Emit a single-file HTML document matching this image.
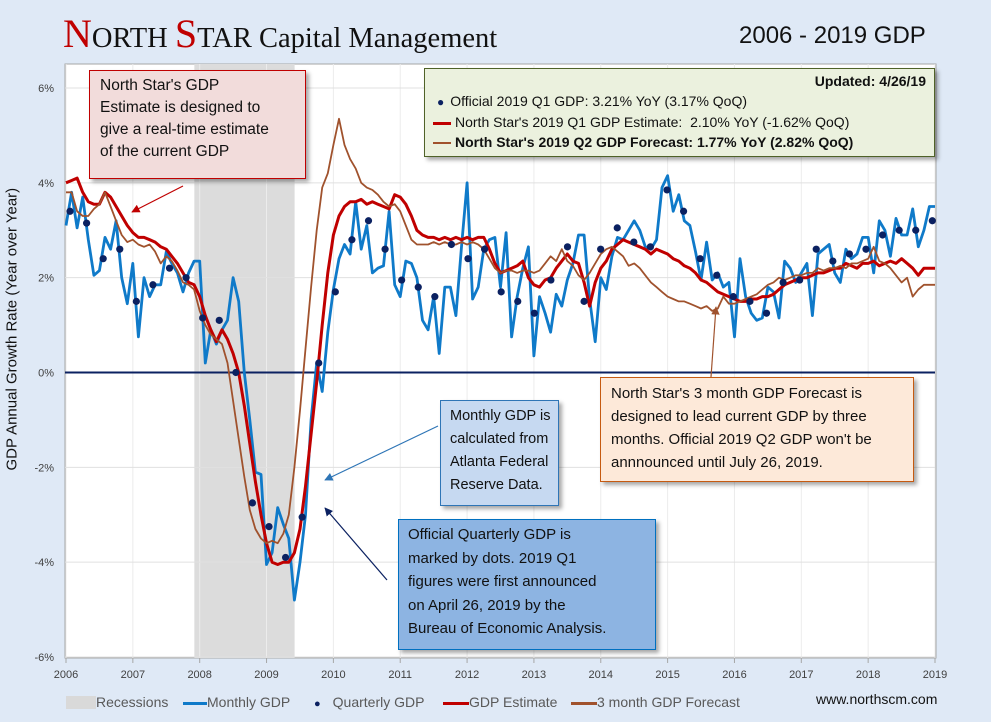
<!DOCTYPE html>
<html><head><meta charset="utf-8"><style>
body{margin:0;width:991px;height:722px;background:#dfe9f6;overflow:hidden;position:relative;font-family:"Liberation Sans",sans-serif}
.box{position:absolute;box-sizing:border-box;color:#111;box-shadow:3px 3px 4px rgba(0,0,0,0.35);white-space:nowrap}
.lg{position:absolute;top:694px;font-size:14px;color:#595959;white-space:nowrap}
</style></head><body>
<div style="position:absolute;left:63px;top:10px;font-family:'Liberation Serif',serif;font-size:28.5px;color:#111;white-space:nowrap"><span style="color:#c00000;font-size:40px">N</span>ORTH <span style="color:#c00000;font-size:40px">S</span>TAR Capital Management</div>
<div style="position:absolute;left:739px;top:22px;font-size:24px;color:#111">2006 - 2019 GDP</div>
<svg id="chart" width="991" height="722" style="position:absolute;left:0;top:0">
<g id="grid"></g><g id="series"></g><g id="axes"></g>
</svg>
<div class="box" style="left:89px;top:70px;width:217px;height:109px;background:#f2dcdb;border:1.5px solid #c00000;padding:4px 10px;font-size:15.5px;line-height:22px">North Star's GDP<br>Estimate is designed to<br>give a real-time estimate<br>of the current GDP</div>
<div class="box" style="left:424px;top:68px;width:511px;height:89px;background:#ebf1de;border:1.5px solid #4f6228;padding:2px 8px;font-size:14px;line-height:20px">
<div style="text-align:right;font-weight:bold">Updated: 4/26/19</div>
<div><span style="color:#0b2161;font-size:12px;margin:0 6px 0 4px">●</span>Official 2019 Q1 GDP: 3.21% YoY (3.17% QoQ)</div>
<div><span style="display:inline-block;width:18px;height:3px;background:#c00000;vertical-align:middle;margin-right:4px"></span>North Star's 2019 Q1 GDP Estimate:&nbsp; 2.10% YoY (-1.62% QoQ)</div>
<div style="font-weight:bold"><span style="display:inline-block;width:18px;height:2px;background:#a0522d;vertical-align:middle;margin-right:4px"></span>North Star's 2019 Q2 GDP Forecast: 1.77% YoY (2.82% QoQ)</div>
</div>
<div class="box" style="left:440px;top:400px;width:119px;height:106px;background:#c6d9f1;border:1.5px solid #2e75b6;padding:4px 9px;font-size:14.5px;line-height:23px">Monthly GDP is<br>calculated from<br>Atlanta Federal<br>Reserve Data.</div>
<div class="box" style="left:398px;top:519px;width:258px;height:131px;background:#8db4e2;border:1.5px solid #0070c0;padding:3px 9px;font-size:15px;line-height:23.5px">Official Quarterly GDP is<br>marked by dots. 2019 Q1<br>figures were first announced<br>on April 26, 2019 by the<br>Bureau of Economic Analysis.</div>
<div class="box" style="left:600px;top:377px;width:314px;height:105px;background:#fde9d9;border:1.5px solid #c55a11;padding:4px 10px;font-size:15px;line-height:23px">North Star's 3 month GDP Forecast is<br>designed to lead current GDP by three<br>months. Official 2019 Q2 GDP won't be<br>annnounced until July 26, 2019.</div>
<div>
<div class="lg" style="left:66px"><span style="display:inline-block;width:30px;height:13px;background:#d9d9d9;vertical-align:-2px"></span>Recessions</div>
<div class="lg" style="left:183px"><span style="display:inline-block;width:24px;height:3px;background:#0f7ac9;vertical-align:middle"></span>Monthly GDP</div>
<div class="lg" style="left:314px"><span style="color:#0b2161;font-size:11px;margin-right:12px">●</span>Quarterly GDP</div>
<div class="lg" style="left:443px"><span style="display:inline-block;width:26px;height:3px;background:#c00000;vertical-align:middle"></span>GDP Estimate</div>
<div class="lg" style="left:571px"><span style="display:inline-block;width:26px;height:3px;background:#a0522d;vertical-align:middle"></span>3 month GDP Forecast</div>
</div>
<div style="position:absolute;left:816px;top:691px;font-size:14px;color:#111">www.northscm.com</div>
<div style="position:absolute;left:-98px;top:352px;width:220px;text-align:center;transform:rotate(-90deg);font-size:15px;color:#111;white-space:nowrap">GDP Annual Growth Rate (Year over Year)</div>
<script>
const yearTicks=[2006,2007,2008,2009,2010,2011,2012,2013,2014,2015,2016,2017,2018,2019];
const yTicks=[6,4,2,0,-2,-4,-6];
const recession=[2007.92,2009.42];
const monthlyGDP=[3.1,3.8,3.05,3.7,2.8,2.05,2.15,2.85,2.6,3.2,2.0,1.45,
2.3,0.75,2.0,1.6,1.85,1.85,2.55,2.3,2.1,1.7,2.1,2.35,
2.35,0.2,0.9,0.6,0.9,1.1,2.0,1.5,0.0,-1.0,-2.1,-2.15,
-4.05,-3.8,-2.85,-3.2,-3.5,-4.8,-4.0,-3.0,-1.0,0.2,-0.4,0.85,
1.75,2.4,2.7,2.5,3.6,2.6,3.1,2.1,2.2,2.25,3.4,1.85,
1.6,2.35,2.3,2.0,1.1,0.9,1.6,0.4,1.8,1.8,1.2,2.65,
4.0,1.55,1.8,2.6,2.8,2.85,1.8,2.95,0.75,1.6,2.2,2.65,
0.35,1.6,1.25,0.85,1.65,1.4,1.95,2.3,2.9,2.9,1.55,0.65,
2.0,1.75,2.45,2.85,2.8,3.0,3.2,3.0,2.65,2.6,2.8,3.9,
4.15,3.4,3.75,3.2,3.1,2.55,1.95,2.75,1.95,2.1,1.8,1.9,
0.75,2.4,1.6,1.25,1.1,1.15,1.8,1.7,1.15,2.35,2.2,1.9,
2.1,2.3,1.2,2.5,2.6,2.7,2.1,1.9,2.6,2.4,2.5,2.85,
2.85,2.1,3.2,3.0,2.45,3.25,2.9,2.9,3.45,2.65,3.0,3.5,3.5];
const gdpEstimate=[4.0,4.05,4.1,3.8,3.6,3.55,3.55,3.8,3.7,3.5,3.3,3.1,
2.95,2.85,2.85,2.8,2.75,2.65,2.6,2.45,2.3,2.1,1.9,1.85,
1.6,1.2,0.9,0.65,0.9,0.7,0.4,0.0,-0.7,-1.5,-2.3,-3.0,
-3.6,-4.0,-4.05,-4.0,-4.0,-3.8,-3.3,-2.4,-1.3,-0.2,1.0,2.1,
2.9,3.3,3.5,3.6,3.6,3.65,3.55,3.6,3.55,3.5,3.45,3.75,
3.7,3.55,3.3,3.0,2.9,2.85,2.85,2.8,2.85,2.8,2.85,2.8,
2.85,2.8,2.85,2.85,2.6,2.3,2.1,2.15,2.2,2.25,2.35,2.0,
1.85,1.8,1.95,2.0,2.2,2.35,2.5,2.35,2.3,1.9,1.4,1.9,
2.2,2.35,2.6,2.7,2.8,2.75,2.7,2.65,2.6,2.5,2.6,2.55,
2.5,2.4,2.35,2.25,2.2,2.1,1.95,1.9,1.8,1.7,1.65,1.6,
1.55,1.5,1.5,1.55,1.55,1.6,1.6,1.65,1.75,1.85,1.9,1.95,
2.0,2.0,2.05,2.1,2.1,2.15,2.2,2.2,2.3,2.25,2.2,2.3,
2.3,2.35,2.25,2.3,2.35,2.3,2.4,2.3,2.2,2.05,2.2,2.2,2.2];
const gdpForecast=[3.8,3.8,3.4,3.3,3.3,3.45,3.55,3.8,3.5,3.2,2.9,2.75,
2.8,2.7,2.65,2.7,2.55,2.3,2.45,2.35,2.15,1.9,1.85,1.75,
1.3,1.0,0.8,0.7,0.6,0.2,-0.6,-1.4,-2.2,-2.9,-3.3,-3.5,
-3.6,-3.55,-3.6,-3.4,-3.0,-2.0,-0.8,0.5,1.8,3.0,3.9,4.2,
4.8,5.35,4.8,4.5,4.3,4.0,3.9,3.85,3.75,3.6,3.5,3.55,
3.4,3.1,2.8,2.7,2.7,2.7,2.75,2.7,2.75,2.7,2.7,2.75,
2.7,2.75,2.7,2.6,2.4,2.2,2.1,2.15,2.15,2.1,2.15,2.15,
2.1,2.15,2.3,2.45,2.35,2.6,2.35,2.25,2.05,1.95,2.1,2.3,
2.5,2.6,2.65,2.55,2.45,2.25,2.3,2.2,2.05,1.9,1.8,1.7,
1.6,1.55,1.5,1.5,1.45,1.4,1.35,1.4,1.3,1.35,1.6,1.45,
1.45,1.5,1.55,1.6,1.65,1.75,1.85,1.9,2.0,1.95,2.0,2.05,
2.05,2.1,2.1,2.2,2.15,2.2,2.2,2.25,2.2,2.3,2.3,2.35,
2.4,2.65,2.35,2.3,2.2,2.05,1.9,2.0,1.6,1.75,1.85,1.85,1.85];
const quarterlyGDP=[3.4,3.15,2.4,2.6,1.5,1.85,2.2,2.0,1.15,1.1,0.0,-2.75,-3.25,-3.9,-3.05,0.2,1.7,2.8,3.2,2.6,1.95,1.8,1.6,2.7,2.4,2.6,1.7,1.5,1.25,1.95,2.65,1.5,2.6,3.05,2.75,2.65,3.85,3.4,2.4,2.05,1.6,1.5,1.25,1.9,1.95,2.6,2.35,2.5,2.6,2.9,3.0,3.0,3.2];

const NS='http://www.w3.org/2000/svg';
const X0=66,X1=935,Y6=88,Ym6=657;
function xs(t){return X0+(t-2006)*(X1-X0)/13;}
function ys(v){return Y6+(6-v)*(Ym6-Y6)/12;}
function mk(tag,attrs,parent){const e=document.createElementNS(NS,tag);for(const k in attrs)e.setAttribute(k,attrs[k]);parent.appendChild(e);return e;}
const grid=document.getElementById('grid'),ser=document.getElementById('series'),ax=document.getElementById('axes');
let bg=mk('rect',{x:65,y:64,width:871,height:594,fill:'#fff',stroke:'#a6a6a6'},grid);


let rec=mk('rect',{x:xs(recession[0]),y:64,width:xs(recession[1])-xs(recession[0]),height:594,fill:'#dcdcdc'},grid);


yearTicks.forEach(y=>{
  mk('line',{x1:xs(y),x2:xs(y),y1:64,y2:658,stroke:'#ececec'},grid);
  const t=mk('text',{x:xs(y),y:678,'text-anchor':'middle','font-size':11,fill:'#404040'},ax);
  t.textContent=y;
  
  
  mk('line',{x1:xs(y),x2:xs(y),y1:658,y2:663,stroke:'#a6a6a6'},ax);
});
yTicks.forEach(v=>{
  if(v!==0)mk('line',{x1:65,x2:935,y1:ys(v),y2:ys(v),stroke:'#e0e0e0'},grid);
  const t=mk('text',{x:54,y:ys(v)+4,'text-anchor':'end','font-size':11,fill:'#404040'},ax);
  t.textContent=v+'%';
  
  
});
let zl=mk('line',{x1:65,x2:935,y1:ys(0),y2:ys(0),stroke:'#0b2161','stroke-width':2},ser);


function line(arr,color,w,name){
  const d=arr.map((v,i)=>(i?'L':'M')+xs(2006+i/12).toFixed(1)+','+ys(v).toFixed(1)).join('');
  const p=mk('path',{d:d,fill:'none',stroke:color,'stroke-width':w,'stroke-linejoin':'round'},ser);
  
  
}
line(monthlyGDP,'#0f7ac9',2.8,'monthly-gdp-line');
line(gdpEstimate,'#c00000',3,'gdp-estimate-line');
line(gdpForecast,'#a0522d',1.8,'forecast-line');
quarterlyGDP.forEach((v,i)=>{
  const c=mk('circle',{cx:xs(2006.06+i*12.9/52),cy:ys(v),r:3.6,fill:'#0b2161'},ser);
  
  
});
mk('defs',{},ax).innerHTML='<marker id="ar" viewBox="0 0 10 10" refX="9" refY="5" markerWidth="7" markerHeight="7" orient="auto"><path d="M0,0L10,5L0,10z" fill="context-stroke"/></marker>';
[[183,186,132,212,'#c00000'],[438,426,325,480,'#2e75b6'],[387,580,325,508,'#0b2161'],[711,377,716,307,'#a0522d']].forEach(a=>{
  const l=mk('line',{x1:a[0],y1:a[1],x2:a[2],y2:a[3],stroke:a[4],'stroke-width':1.2,'marker-end':'url(#ar)'},ax);
  
  
});
</script>
</body></html>
